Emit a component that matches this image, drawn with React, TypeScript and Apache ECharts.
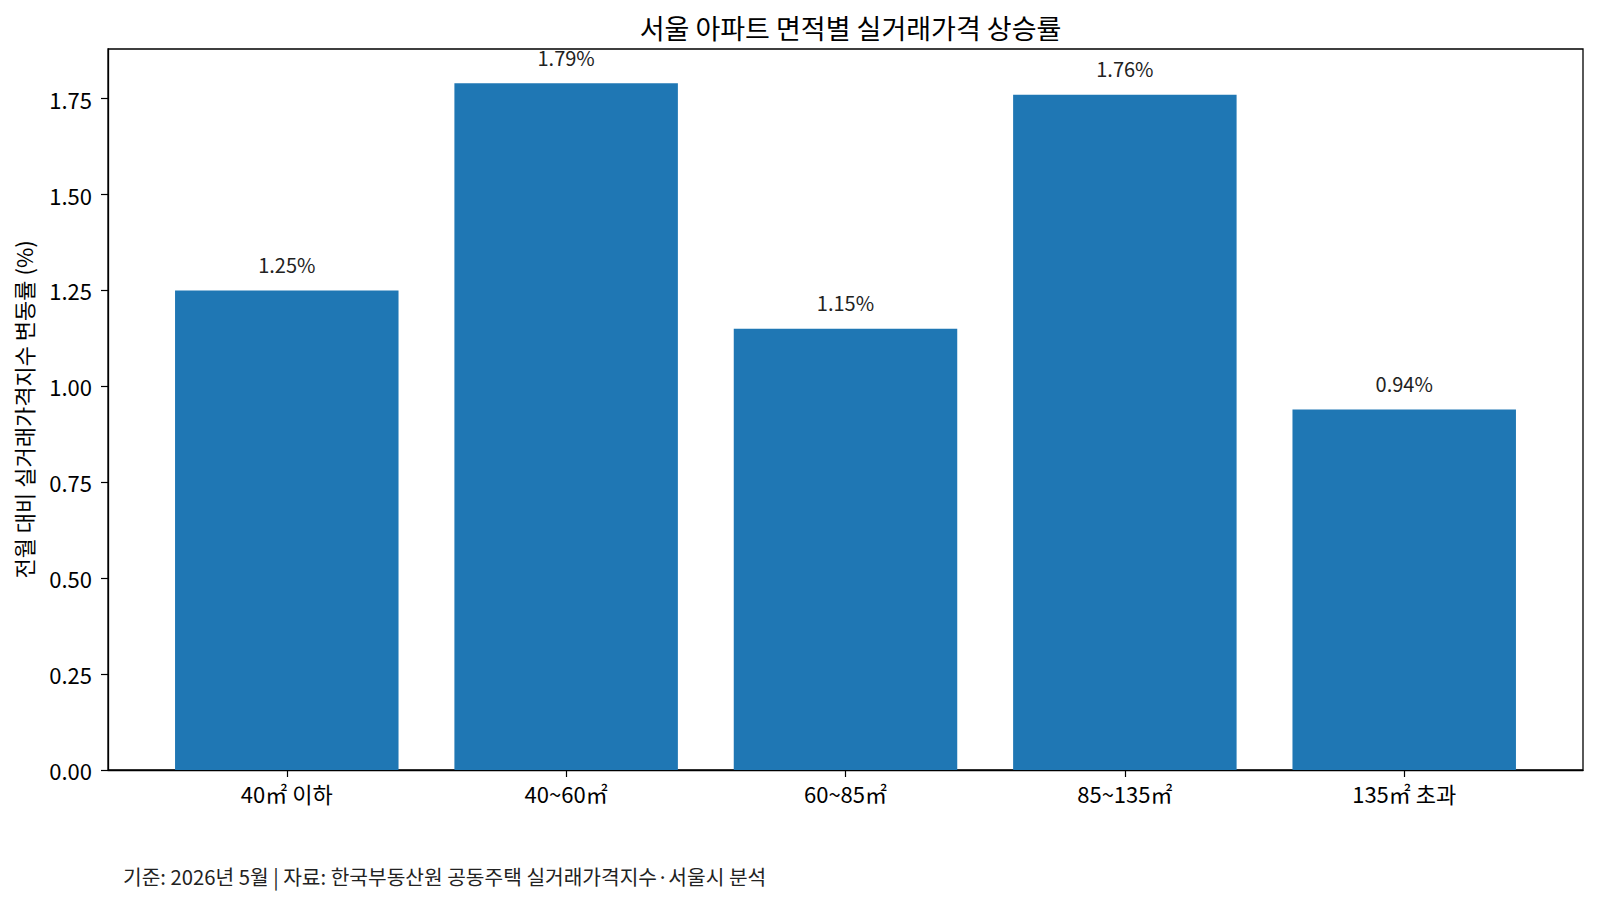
import React, { useEffect, useRef } from "react";
import * as echarts from "echarts";

const categories = ["40㎡ 이하", "40~60㎡", "60~85㎡", "85~135㎡", "135㎡ 초과"];
const values = [1.25, 1.79, 1.15, 1.76, 0.94];
const yTicks = [0, 0.25, 0.5, 0.75, 1.0, 1.25, 1.5, 1.75];
const titleText = "서울 아파트 면적별 실거래가격 상승률";
const yAxisName = "전월 대비 실거래가격지수 변동률 (%)";
const footerText = "기준: 2026년 5월 | 자료: 한국부동산원 공동주택 실거래가격지수·서울시 분석";

const FONT = "'Noto Sans CJK KR', 'Noto Sans', sans-serif";

export default function App() {
  const ref = useRef<HTMLDivElement>(null);
  useEffect(() => {
    if (!ref.current) return;
    const chart = echarts.init(ref.current, null, { renderer: "svg" });
    const left = 108;
    const right = 1583;
    const xMin = -0.64;
    const xMax = 4.64;
    const pxPerUnit = (right - left) / (xMax - xMin);
    chart.setOption({
      animation: false,
      backgroundColor: "#ffffff",
      textStyle: { fontFamily: FONT },
      title: {
        text: titleText,
        left: (left + right) / 2,
        textAlign: "center",
        top: 9,
        textStyle: { fontFamily: FONT, fontSize: 27, fontWeight: "normal", color: "#000" },
      },
      grid: {
        left: left,
        right: 1600 - right,
        top: 49,
        bottom: 906 - 770,
        show: true,
        borderColor: "#000",
        borderWidth: 1.3,
        backgroundColor: "transparent",
      },
      xAxis: {
        type: "value",
        min: xMin,
        max: xMax,
        splitLine: { show: false },
        axisLine: { show: true, onZero: false, lineStyle: { color: "#000", width: 1.3 } },
        axisTick: { show: true, length: 7, lineStyle: { color: "#000", width: 1.2 }, customValues: [0, 1, 2, 3, 4] },
        axisLabel: {
          customValues: [0, 1, 2, 3, 4],
          formatter: (v: number) => categories[Math.round(v)] ?? "",
          margin: 12,
          fontSize: 22,
          color: "#000",
          fontFamily: FONT,
        },
      },
      yAxis: {
        type: "value",
        min: 0,
        max: values.reduce((a, b) => Math.max(a, b), 0) * 1.05,
        splitLine: { show: false },
        axisLine: { show: true, onZero: false, lineStyle: { color: "#000", width: 1.3 } },
        axisTick: { show: true, length: 7, lineStyle: { color: "#000", width: 1.2 }, customValues: yTicks },
        axisLabel: {
          customValues: yTicks,
          formatter: (v: number) => v.toFixed(2),
          margin: 16,
          fontSize: 22,
          color: "#000",
          fontFamily: FONT,
        },
        name: yAxisName,
        nameLocation: "middle",
        nameGap: 74,
        nameRotate: 90,
        nameTextStyle: { fontSize: 22, color: "#000", fontFamily: FONT },
      },
      series: [
        {
          type: "bar",
          data: values.map((v, i) => [i, v]),
          barWidth: 0.8 * pxPerUnit,
          itemStyle: { color: "#1f77b4" },
          label: {
            show: true,
            position: "top",
            distance: 16,
            formatter: (p: any) => `${p.value[1].toFixed(2)}%`,
            fontSize: 20,
            color: "#222",
            fontFamily: FONT,
          },
        },
      ],
      graphic: [
        {
          type: "text",
          left: 123,
          top: 866,
          style: { text: footerText, fontSize: 20.3, fill: "#222", fontFamily: FONT },
        },
      ],
    });
    return () => chart.dispose();
  }, []);
  return <div ref={ref} style={{ width: 1600, height: 906, margin: -8 }} />;
}
